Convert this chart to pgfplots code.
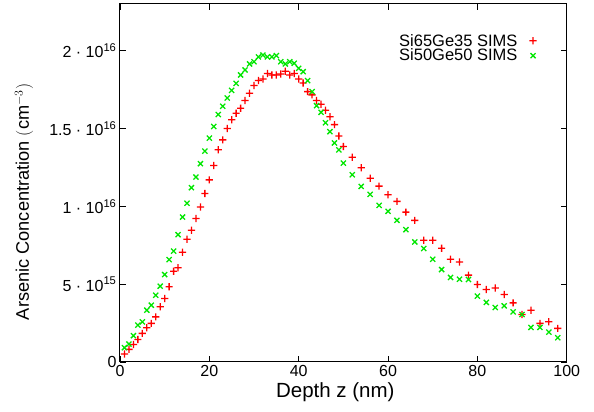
\documentclass[border=0pt]{standalone}
\usepackage{fontspec}
\setmainfont{Liberation Sans}
\usepackage{pgfplots}
\pgfplotsset{compat=1.18}
\definecolor{gpred}{RGB}{255,0,0}
\definecolor{gpgreen}{RGB}{0,230,0}
\pgfdeclareplotmark{fplus}{%
  \pgfpathrectangle{\pgfpoint{-\pgfplotmarksize}{-0.65pt}}{\pgfpoint{2\pgfplotmarksize}{1.3pt}}%
  \pgfpathrectangle{\pgfpoint{-0.65pt}{-\pgfplotmarksize}}{\pgfpoint{1.3pt}{2\pgfplotmarksize}}%
  \pgfusepathqfill}
\begin{document}
\begin{tikzpicture}[x=1pt,y=1pt]
\path[use as bounding box] (-120,-50) rectangle (474,362);
\begin{axis}[
  at={(0,0)}, anchor=south west,
  scale only axis, width=446.7pt, height=358pt,
  xmin=0, xmax=100, ymin=0, ymax=23,
  xtick={0,20,40,60,80,100},
  ytick={0,5,10,15,20},
  yticklabels={0, 5 · 10\textsuperscript{15}, 1 · 10\textsuperscript{16}, 1.5 · 10\textsuperscript{16}, 2 · 10\textsuperscript{16}},
  tick align=inside, major tick length=6pt,
  tick style={black, line width=0.8pt},
  axis line style={black, line width=1pt},
  tick label style={font=\fontsize{16}{19}\selectfont},
  /pgf/number format/assume math mode=true,
  xlabel={Depth z (nm)},
  ylabel={Arsenic Concentration $(\mathrm{cm}^{-3})$},
  xlabel style={font=\fontsize{20.5}{23}\selectfont, at={(axis description cs:0.482,-0.084)}, anchor=center},
  ylabel style={font=\fontsize{18.2}{21}\selectfont, at={(axis description cs:-0.215,0.447)}, anchor=center},
  legend plot pos=right,
  legend cell align=right,
  legend image post style={xshift=16pt},
  legend style={draw=none, fill=none, at={(rel axis cs:0.9355,0.925)}, anchor=north east,
    font=\fontsize{16.5}{19}\selectfont, row sep=-2.5pt, inner sep=1pt,
    nodes={inner xsep=12pt}},
]
\addplot[only marks, mark=fplus, mark size=3.6pt, color=gpred,
  mark options={solid, fill=gpred, draw=none}] coordinates {
(1,0.51) (2,0.81) (3,1.13) (4,1.45) (5,1.84) (6,2.20) (7,2.48) (8,2.90) (9,3.55) (10,4.08)
(11,4.83) (12,5.83) (13,6.05) (14,7.05) (15,7.88) (16,8.46) (17,9.22) (18,9.96) (19,10.82) (20,11.70)
(21,12.63) (22,13.63) (23,14.27) (24,15.00) (25,15.56) (26,15.98) (27,16.30) (28,16.80) (29,17.26) (30,17.76)
(31,18.08) (32,18.18) (33,18.54) (34,18.44) (35,18.44) (36,18.50) (37,18.68) (38,18.44) (39,18.54) (40,18.18)
(41,17.93) (42,17.37) (43,17.16) (44,16.80) (45,16.56) (46,16.18) (47,15.76) (48,15.25) (49,14.52) (50,13.85)
(52,13.16) (54,12.48) (56,11.81) (58,11.30) (60,10.75) (62,10.32) (64,9.63) (66,9.10) (68,7.82) (70,7.82)
(72,7.31) (74,6.60) (76,6.43) (78,5.58) (80,4.98) (82,4.66) (84,4.76) (86,4.34) (88,3.80) (90,3.05)
(92,3.33) (94,2.48) (96,2.58) (98,2.16)
};
\addlegendentry{Si65Ge35 SIMS}
\addplot[only marks, mark=x, mark size=3.6pt, line width=1.3pt, color=gpgreen,
  mark options={solid, draw=gpgreen, line width=1.3pt}] coordinates {
(1,0.92) (2,1.15) (3,1.69) (4,2.37) (5,2.58) (6,3.33) (7,3.65) (8,4.29) (9,4.87) (10,5.62)
(11,6.58) (12,7.12) (13,8.18) (14,9.31) (15,10.20) (16,11.20) (17,11.88) (18,12.74) (19,13.55) (20,14.38)
(21,15.13) (22,15.90) (23,16.43) (24,16.96) (25,17.45) (26,17.90) (27,18.44) (28,18.76) (29,19.15) (30,19.29)
(31,19.60) (32,19.72) (33,19.60) (34,19.60) (35,19.68) (36,19.29) (37,19.15) (38,19.29) (39,19.19) (40,18.87)
(41,18.65) (42,18.08) (43,17.37) (44,16.47) (45,16.04) (46,15.37) (47,14.80) (48,14.07) (49,13.63) (50,12.78)
(52,12.03) (54,11.28) (56,10.77) (58,10.06) (60,9.68) (62,9.10) (64,8.50) (66,7.71) (68,7.29) (70,6.60)
(72,5.94) (74,5.43) (76,5.32) (78,5.30) (80,4.23) (82,3.83) (84,3.50) (86,3.61) (88,3.22) (90,3.05)
(92,2.22) (94,2.22) (96,1.92) (98,1.56)
};
\addlegendentry{Si50Ge50 SIMS}
\end{axis}
\end{tikzpicture}
\end{document}
